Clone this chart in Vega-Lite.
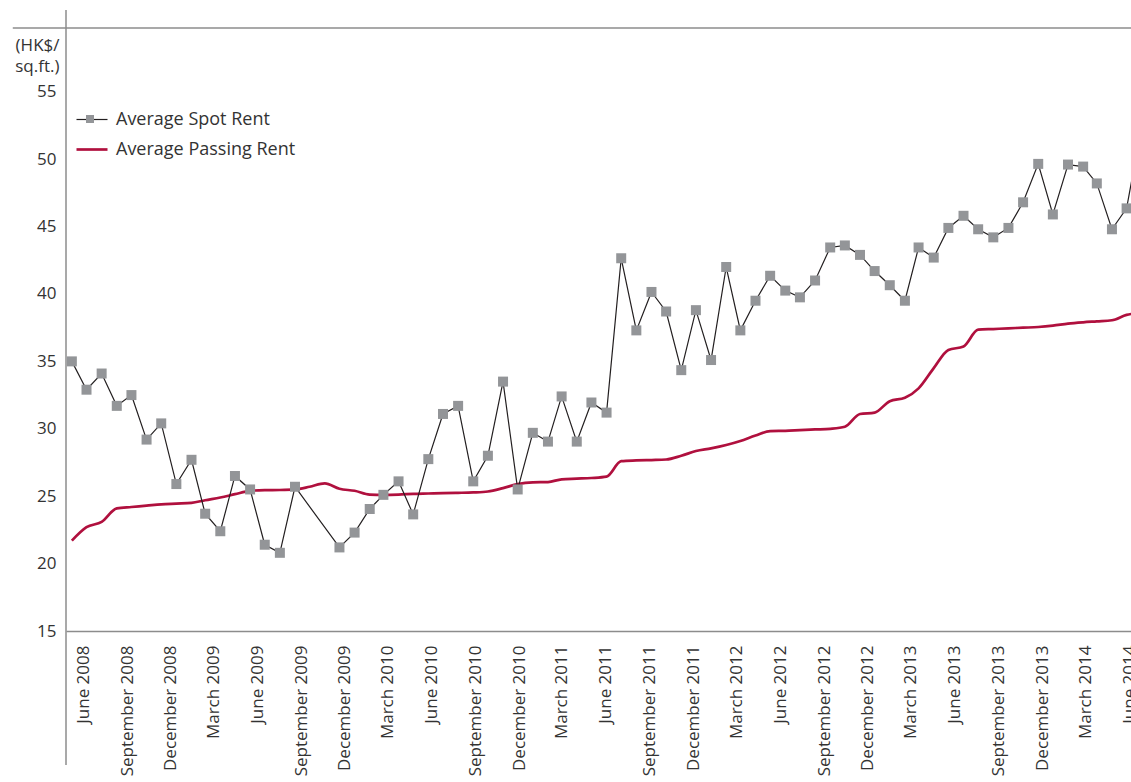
{
  "$schema": "https://vega.github.io/schema/vega-lite/v6.json",
  "width": 1065,
  "height": 603,
  "autosize": {"type": "none"},
  "padding": {"left": 66, "top": 28, "right": 0, "bottom": 151},
  "background": "white",
  "config": {
    "view": {"stroke": null},
    "font": "Open Sans",
    "axis": {"labelFont": "Open Sans", "titleFont": "Open Sans"},
    "legend": {"labelFont": "Open Sans"}
  },
  "layer": [
    {
      "data": {
        "values": [
          {"month": "2008-06-01", "spot": 35.0, "passing": 21.7},
          {"month": "2008-07-01", "spot": 32.9, "passing": 22.7},
          {"month": "2008-08-01", "spot": 34.1, "passing": 23.1},
          {"month": "2008-09-01", "spot": 31.7, "passing": 24.1},
          {"month": "2008-10-01", "spot": 32.5, "passing": 24.2},
          {"month": "2008-11-01", "spot": 29.2, "passing": 24.3},
          {"month": "2008-12-01", "spot": 30.4, "passing": 24.4},
          {"month": "2009-01-01", "spot": 25.9, "passing": 24.45},
          {"month": "2009-02-01", "spot": 27.7, "passing": 24.5},
          {"month": "2009-03-01", "spot": 23.7, "passing": 24.7},
          {"month": "2009-04-01", "spot": 22.4, "passing": 24.9},
          {"month": "2009-05-01", "spot": 26.5, "passing": 25.15},
          {"month": "2009-06-01", "spot": 25.5, "passing": 25.4},
          {"month": "2009-07-01", "spot": 21.4, "passing": 25.45},
          {"month": "2009-08-01", "spot": 20.8, "passing": 25.46},
          {"month": "2009-09-01", "spot": 25.7, "passing": 25.5},
          {"month": "2009-10-01", "spot": null, "passing": 25.7},
          {"month": "2009-11-01", "spot": null, "passing": 25.95},
          {"month": "2009-12-01", "spot": 21.2, "passing": 25.55},
          {"month": "2010-01-01", "spot": 22.3, "passing": 25.4},
          {"month": "2010-02-01", "spot": 24.05, "passing": 25.12},
          {"month": "2010-03-01", "spot": 25.1, "passing": 25.1},
          {"month": "2010-04-01", "spot": 26.1, "passing": 25.12},
          {"month": "2010-05-01", "spot": 23.65, "passing": 25.17},
          {"month": "2010-06-01", "spot": 27.75, "passing": 25.2},
          {"month": "2010-07-01", "spot": 31.1, "passing": 25.23},
          {"month": "2010-08-01", "spot": 31.7, "passing": 25.25},
          {"month": "2010-09-01", "spot": 26.1, "passing": 25.28},
          {"month": "2010-10-01", "spot": 28.0, "passing": 25.35},
          {"month": "2010-11-01", "spot": 33.5, "passing": 25.6},
          {"month": "2010-12-01", "spot": 25.5, "passing": 25.9},
          {"month": "2011-01-01", "spot": 29.7, "passing": 26.03},
          {"month": "2011-02-01", "spot": 29.05, "passing": 26.05},
          {"month": "2011-03-01", "spot": 32.4, "passing": 26.25},
          {"month": "2011-04-01", "spot": 29.05, "passing": 26.3},
          {"month": "2011-05-01", "spot": 31.95, "passing": 26.35},
          {"month": "2011-06-01", "spot": 31.2, "passing": 26.45},
          {"month": "2011-07-01", "spot": 42.65, "passing": 27.6},
          {"month": "2011-08-01", "spot": 37.3, "passing": 27.65},
          {"month": "2011-09-01", "spot": 40.15, "passing": 27.68},
          {"month": "2011-10-01", "spot": 38.7, "passing": 27.72},
          {"month": "2011-11-01", "spot": 34.35, "passing": 28.0},
          {"month": "2011-12-01", "spot": 38.8, "passing": 28.35},
          {"month": "2012-01-01", "spot": 35.1, "passing": 28.55},
          {"month": "2012-02-01", "spot": 42.0, "passing": 28.8},
          {"month": "2012-03-01", "spot": 37.3, "passing": 29.1},
          {"month": "2012-04-01", "spot": 39.5, "passing": 29.5},
          {"month": "2012-05-01", "spot": 41.35, "passing": 29.82},
          {"month": "2012-06-01", "spot": 40.25, "passing": 29.85},
          {"month": "2012-07-01", "spot": 39.75, "passing": 29.9},
          {"month": "2012-08-01", "spot": 41.0, "passing": 29.95},
          {"month": "2012-09-01", "spot": 43.45, "passing": 30.0},
          {"month": "2012-10-01", "spot": 43.6, "passing": 30.15},
          {"month": "2012-11-01", "spot": 42.9, "passing": 31.1},
          {"month": "2012-12-01", "spot": 41.7, "passing": 31.2},
          {"month": "2013-01-01", "spot": 40.65, "passing": 32.05},
          {"month": "2013-02-01", "spot": 39.5, "passing": 32.3},
          {"month": "2013-03-01", "spot": 43.45, "passing": 33.0},
          {"month": "2013-04-01", "spot": 42.7, "passing": 34.5},
          {"month": "2013-05-01", "spot": 44.9, "passing": 35.85},
          {"month": "2013-06-01", "spot": 45.8, "passing": 36.1},
          {"month": "2013-07-01", "spot": 44.8, "passing": 37.35},
          {"month": "2013-08-01", "spot": 44.2, "passing": 37.4},
          {"month": "2013-09-01", "spot": 44.9, "passing": 37.45},
          {"month": "2013-10-01", "spot": 46.8, "passing": 37.5},
          {"month": "2013-11-01", "spot": 49.65, "passing": 37.55},
          {"month": "2013-12-01", "spot": 45.9, "passing": 37.65},
          {"month": "2014-01-01", "spot": 49.6, "passing": 37.8},
          {"month": "2014-02-01", "spot": 49.45, "passing": 37.9},
          {"month": "2014-03-01", "spot": 48.2, "passing": 37.97},
          {"month": "2014-04-01", "spot": 44.8, "passing": 38.05},
          {"month": "2014-05-01", "spot": 46.35, "passing": 38.45},
          {"month": "2014-06-01", "spot": 52.5, "passing": 38.6}
        ]
      },
      "layer": [
        {
          "data": {"values": [{}]},
          "mark": {"type": "rule", "color": "#8c8c8c", "strokeWidth": 1.5},
          "encoding": {
            "x": {
              "datum": {"year": 2008, "month": 2, "date": 1, "utc": true},
              "type": "temporal",
              "scale": {"type": "utc", "domain": [{"year": 2008, "month": 5, "date": 20, "utc": true}, {"year": 2014, "month": 5, "date": 10, "utc": true}]},
              "axis": null
            },
            "x2": {"datum": {"year": 2014, "month": 8, "date": 1, "utc": true}},
            "y": {"datum": 59.73, "type": "quantitative", "title": ["(HK$/", "sq.ft.)"]}
          }
        },
        {
          "mark": {"type": "line", "interpolate": "monotone", "strokeWidth": 2.7},
          "encoding": {
            "x": {"field": "month", "type": "temporal", "axis": null},
            "y": {
              "field": "passing",
              "type": "quantitative",
              "title": ["(HK$/", "sq.ft.)"],
              "scale": {"domain": [15, 59.73], "nice": false, "zero": false},
              "axis": {
                "values": [15, 20, 25, 30, 35, 40, 45, 50, 55],
                "domain": false,
                "ticks": false,
                "grid": false,
                "labelPadding": 10,
                "labelFontSize": 17,
                "labelColor": "#333333",
                "labelFlush": false,
                "labelOverlap": false,
                "title": ["(HK$/", "sq.ft.)"],
                "titleAngle": 0,
                "titleAlign": "right",
                "titleBaseline": "alphabetic",
                "titleX": -7,
                "titleY": 22,
                "titleFontSize": 17,
                "titleFontWeight": "normal",
                "titleColor": "#333333",
                "titleLineHeight": 21
              }
            },
            "stroke": {
              "datum": "Average Passing Rent",
              "type": "nominal",
              "scale": {"domain": ["Average Spot Rent", "Average Passing Rent"], "range": ["#231f20", "#b0103e"]},
              "legend": {
                "orient": "none",
                "legendX": 17,
                "legendY": 82.5,
                "title": null,
                "padding": 0,
                "symbolType": "stroke",
                "symbolSize": 961,
                "symbolStrokeWidth": 2.7,
                "labelFontSize": 18,
                "labelLimit": 400,
                "labelColor": "#333333",
                "labelOffset": 15,
                "rowPadding": 12,
                "zindex": 0,
                "encode": {
                  "symbols": {
                    "update": {
                      "strokeWidth": {"signal": "datum.value === 'Average Spot Rent' ? 1.2 : 2.7"}
                    }
                  }
                }
              }
            }
          }
        },
        {
          "transform": [{"filter": "isValid(datum.spot)"}],
          "mark": {"type": "line", "strokeWidth": 1.2},
          "encoding": {
            "x": {"field": "month", "type": "temporal", "axis": null},
            "y": {"field": "spot", "type": "quantitative", "title": ["(HK$/", "sq.ft.)"]},
            "stroke": {"datum": "Average Spot Rent", "type": "nominal"}
          }
        },
        {
          "transform": [{"filter": "isValid(datum.spot)"}],
          "mark": {"type": "point", "shape": "square", "filled": true, "size": 100, "opacity": 1, "strokeWidth": 0},
          "encoding": {
            "x": {"field": "month", "type": "temporal", "axis": null},
            "y": {"field": "spot", "type": "quantitative", "title": ["(HK$/", "sq.ft.)"]},
            "fill": {
              "datum": "Average Spot Rent",
              "type": "nominal",
              "scale": {"domain": ["Average Spot Rent"], "range": ["#939598"]},
              "legend": {
                "orient": "none",
                "legendX": 20,
                "legendY": 87,
                "title": null,
                "padding": 0,
                "symbolType": "square",
                "symbolSize": 64,
                "symbolStrokeWidth": 0,
                "labelExpr": "''",
                "labelFontSize": 1,
                "zindex": 1
              }
            }
          }
        }
      ]
    },
    {
      "data": {"values": [{}]},
      "mark": {"type": "rule", "color": "#8c8c8c", "strokeWidth": 1.5},
      "encoding": {
        "x": {
          "datum": {"year": 2008, "month": 4, "date": 26, "utc": true},
          "type": "temporal",
          "scale": {"type": "utc", "domain": [{"year": 2008, "month": 4, "date": 26, "utc": true}, {"year": 2014, "month": 6, "date": 5, "utc": true}]},
          "axis": {
            "orient": "bottom",
            "values": [
              {"year": 2008, "month": 6, "date": 1, "utc": true},
              {"year": 2008, "month": 9, "date": 1, "utc": true},
              {"year": 2008, "month": 12, "date": 1, "utc": true},
              {"year": 2009, "month": 3, "date": 1, "utc": true},
              {"year": 2009, "month": 6, "date": 1, "utc": true},
              {"year": 2009, "month": 9, "date": 1, "utc": true},
              {"year": 2009, "month": 12, "date": 1, "utc": true},
              {"year": 2010, "month": 3, "date": 1, "utc": true},
              {"year": 2010, "month": 6, "date": 1, "utc": true},
              {"year": 2010, "month": 9, "date": 1, "utc": true},
              {"year": 2010, "month": 12, "date": 1, "utc": true},
              {"year": 2011, "month": 3, "date": 1, "utc": true},
              {"year": 2011, "month": 6, "date": 1, "utc": true},
              {"year": 2011, "month": 9, "date": 1, "utc": true},
              {"year": 2011, "month": 12, "date": 1, "utc": true},
              {"year": 2012, "month": 3, "date": 1, "utc": true},
              {"year": 2012, "month": 6, "date": 1, "utc": true},
              {"year": 2012, "month": 9, "date": 1, "utc": true},
              {"year": 2012, "month": 12, "date": 1, "utc": true},
              {"year": 2013, "month": 3, "date": 1, "utc": true},
              {"year": 2013, "month": 6, "date": 1, "utc": true},
              {"year": 2013, "month": 9, "date": 1, "utc": true},
              {"year": 2013, "month": 12, "date": 1, "utc": true},
              {"year": 2014, "month": 3, "date": 1, "utc": true},
              {"year": 2014, "month": 6, "date": 1, "utc": true}
            ],
            "format": "%B %Y",
            "labelAngle": 270,
            "labelAlign": "right",
            "labelBaseline": "middle",
            "labelPadding": 14,
            "labelFontSize": 17,
            "labelColor": "#333333",
            "labelFlush": false,
            "labelOverlap": false,
            "labelBound": false,
            "ticks": false,
            "grid": false,
            "domain": true,
            "domainColor": "#8c8c8c",
            "domainWidth": 1.5,
            "title": null
          }
        },
        "y": {"datum": 5.06, "type": "quantitative", "title": ["(HK$/", "sq.ft.)"]},
        "y2": {"datum": 61.07}
      }
    }
  ],
  "resolve": {"scale": {"x": "independent"}, "axis": {"x": "independent"}}
}
